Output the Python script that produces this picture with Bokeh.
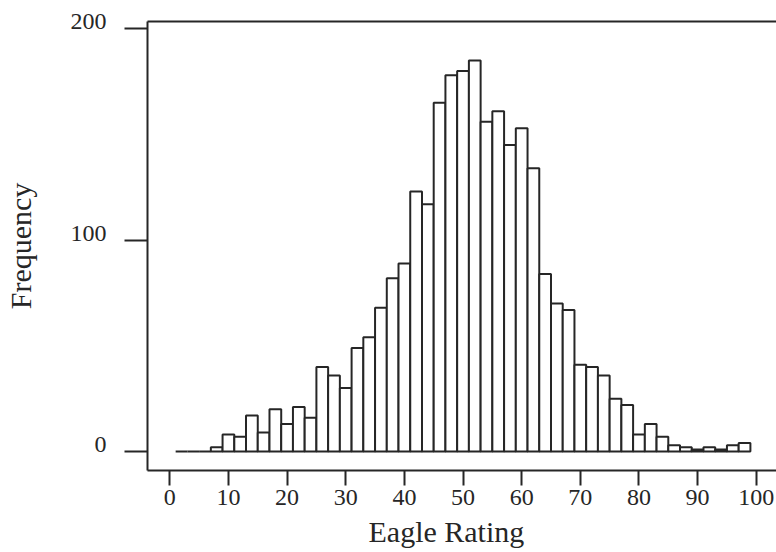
from bokeh.plotting import figure
from bokeh.models import FixedTicker, LinearAxis, Range1d, Title, ColumnDataSource
from bokeh.embed import file_html
from bokeh.resources import INLINE

# Histogram of Eagle Ratings: bins of width 2 starting at odd values
bin_starts = [1, 3, 5, 7, 9, 11, 13, 15, 17, 19, 21, 23, 25, 27, 29, 31, 33, 35,
              37, 39, 41, 43, 45, 47, 49, 51, 53, 55, 57, 59, 61, 63, 65, 67, 69,
              71, 73, 75, 77, 79, 81, 83, 85, 87, 89, 91, 93, 95, 97]
bin_width = 2
counts = [0, 0, 0, 2, 8, 7, 17, 9, 20, 13, 21, 16, 40, 36, 30, 49, 54, 68,
          82, 89, 123, 117, 165, 178, 180, 185, 156, 161, 145, 153, 134, 84, 70, 67, 41,
          40, 36, 25, 22, 8, 13, 7, 3, 2, 1, 2, 1, 3, 4]
x_ticks = [0, 10, 20, 30, 40, 50, 60, 70, 80, 90, 100]
y_ticks = [0, 100, 200]

INK = "#262626"
FONT = "Liberation Serif"
X_START, X_END = -3.80, 103.45
Y_START, Y_END = -8.99, 203.45
LABEL_LIFT = 3.35  # tick labels sit a little above their ticks (in data units)

src = ColumnDataSource(dict(
    left=bin_starts,
    right=[b + bin_width for b in bin_starts],
    top=counts,
))

p = figure(width=776, height=552, output_backend="svg", toolbar_location=None,
           x_range=Range1d(X_START, X_END), y_range=Range1d(Y_START, Y_END),
           tools="")
p.extra_y_ranges = {"ylab": Range1d(Y_START - LABEL_LIFT, Y_END - LABEL_LIFT)}
p.min_border_left = 146
p.min_border_right = 0
p.min_border_top = 21
p.min_border_bottom = 82
p.outline_line_color = None
p.background_fill_color = "white"
p.border_fill_color = "white"
p.xgrid.visible = False
p.ygrid.visible = False

p.quad(left="left", right="right", bottom=0, top="top", source=src,
       fill_color="white", line_color=INK, line_width=2)

# x axis
xa = p.xaxis[0]
xa.ticker = FixedTicker(ticks=x_ticks)
xa.minor_tick_line_color = None
xa.major_tick_in = 0
xa.major_tick_out = 15
xa.major_tick_line_width = 2
xa.major_tick_line_color = INK
xa.axis_line_width = 2
xa.axis_line_color = INK
xa.major_label_text_font = FONT
xa.major_label_text_font_size = "24px"
xa.major_label_text_color = INK
xa.major_label_standoff = 4

# y axis: line and ticks only
ya = p.yaxis[0]
ya.ticker = FixedTicker(ticks=y_ticks)
ya.minor_tick_line_color = None
ya.major_tick_in = 0
ya.major_tick_out = 23
ya.major_tick_line_width = 2
ya.major_tick_line_color = INK
ya.axis_line_width = 2
ya.axis_line_color = INK
ya.major_label_overrides = {t: "" for t in y_ticks}
ya.major_label_standoff = 0

# y axis labels, lifted slightly above the ticks
yl = LinearAxis(y_range_name="ylab", ticker=FixedTicker(ticks=y_ticks))
yl.axis_line_color = None
yl.major_tick_line_color = None
yl.minor_tick_line_color = None
yl.major_tick_in = 0
yl.major_tick_out = 0
yl.major_label_text_font = FONT
yl.major_label_text_font_size = "24px"
yl.major_label_text_color = INK
yl.major_label_standoff = 18
yl.axis_label = "Frequency"
yl.axis_label_text_font = FONT
yl.axis_label_text_font_size = "30px"
yl.axis_label_text_font_style = "normal"
yl.axis_label_text_color = INK
yl.axis_label_standoff = 31
p.add_layout(yl, "left")

# top frame line
top_axis = LinearAxis(ticker=FixedTicker(ticks=[]), major_label_text_font_size="0px",
                      major_tick_out=0, major_tick_in=0, minor_tick_line_color=None,
                      axis_line_width=2, axis_line_color=INK)
p.add_layout(top_axis, "above")

# x axis title
xt = Title(text="Eagle Rating", align="left", offset=221,
           text_font=FONT, text_font_size="30px", text_font_style="normal",
           text_color=INK, standoff=10)
p.add_layout(xt, "below")

open("out.html", "w").write(file_html(p, INLINE))
